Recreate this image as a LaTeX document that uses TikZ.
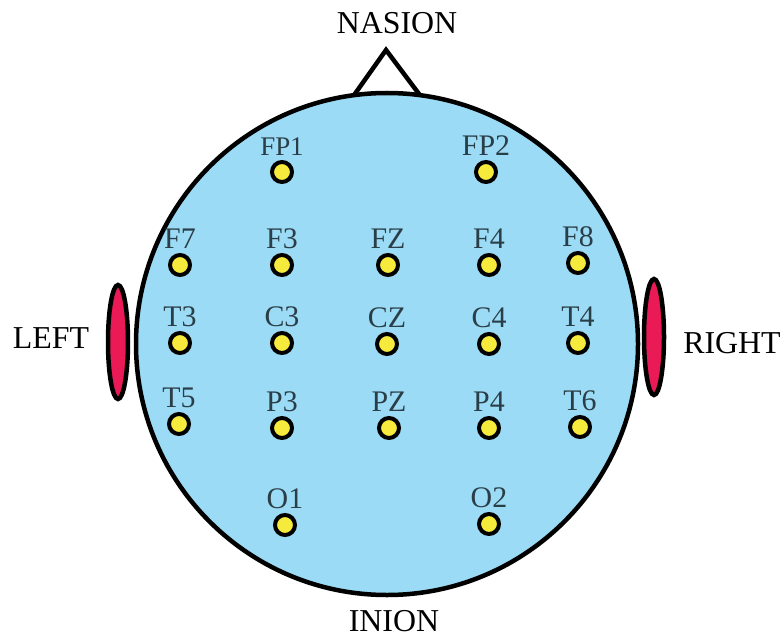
\documentclass[tikz,border=0pt]{standalone}
\usepackage{fontspec}
\setmainfont{Liberation Serif}
\usetikzlibrary{positioning}
\definecolor{scalp}{RGB}{155,219,245}
\definecolor{earred}{RGB}{233,26,86}
\definecolor{padyellow}{RGB}{246,234,60}
\definecolor{tagslate}{RGB}{42,62,72}
\tikzset{
  wire/.style={line width=4.5bp, line join=miter},
  ear/.style={draw, line width=4.5bp, fill=earred},
  elec/.style={circle, draw, line width=4bp, fill=padyellow, inner sep=0pt, minimum size=20bp},
  tag/.style={font=\fontsize{30}{32}\selectfont, text=tagslate, inner sep=0pt, label distance=4bp},
  bigtxt/.style={font=\fontsize{32}{34}\selectfont, inner sep=0pt}
}

\begin{document}
\begin{tikzpicture}[x=1bp,y=-1bp]
  \useasboundingbox (0,0) rectangle (784,639);
  % nose, ears and head
  \draw[wire] (352,98) -- (386,50) -- (422,98);
  \draw[ear] (118,342) ellipse [x radius=10, y radius=57];
  \draw[ear] (654,337) ellipse [x radius=10, y radius=58];
  \draw[wire, fill=scalp] (387,344) circle [radius=251];

  \node[bigtxt] (nasion) at (397,23) {NASION};
  \node[bigtxt] (inion) at (394,621) {INION};
  \node[bigtxt] (left) at (51,338) {LEFT};
  \node[bigtxt] (right) at (732,343) {RIGHT};

  % electrodes
  \node[elec, label={[tag, font=\fontsize{27}{29}\selectfont]above:FP1}] (fp1) at (282,172) {};
  \node[elec, label={[tag]above:FP2}] (fp2) at (486,172) {};

  \node[elec, label={[tag]above:F7}] (f7) at (180,265) {};
  \node[elec, label={[tag]above:F3}] (f3) at (282,265) {};
  \node[elec, label={[tag]above:FZ}] (fz) at (388,265) {};
  \node[elec, label={[tag]above:F4}] (f4) at (489,265) {};
  \node[elec, label={[tag]above:F8}] (f8) at (578,263) {};

  \node[elec, label={[tag]above:T3}] (t3) at (180,343) {};
  \node[elec, label={[tag]above:C3}] (c3) at (282,343) {};
  \node[elec, label={[tag]above:CZ}] (cz) at (387,344) {};
  \node[elec, label={[tag]above:C4}] (c4) at (489,344) {};
  \node[elec, label={[tag]above:T4}] (t4) at (578,343) {};

  \node[elec, label={[tag]above:T5}] (t5) at (179,424) {};
  \node[elec, label={[tag]above:P3}] (p3) at (282,428) {};
  \node[elec, label={[tag]above:PZ}] (pz) at (389,428) {};
  \node[elec, label={[tag]above:P4}] (p4) at (489,428) {};
  \node[elec, label={[tag]above:T6}] (t6) at (580,427) {};

  \node[elec, label={[tag]above:O1}] (o1) at (285,525) {};
  \node[elec, label={[tag]above:O2}] (o2) at (489,524) {};
\end{tikzpicture}
\end{document}
